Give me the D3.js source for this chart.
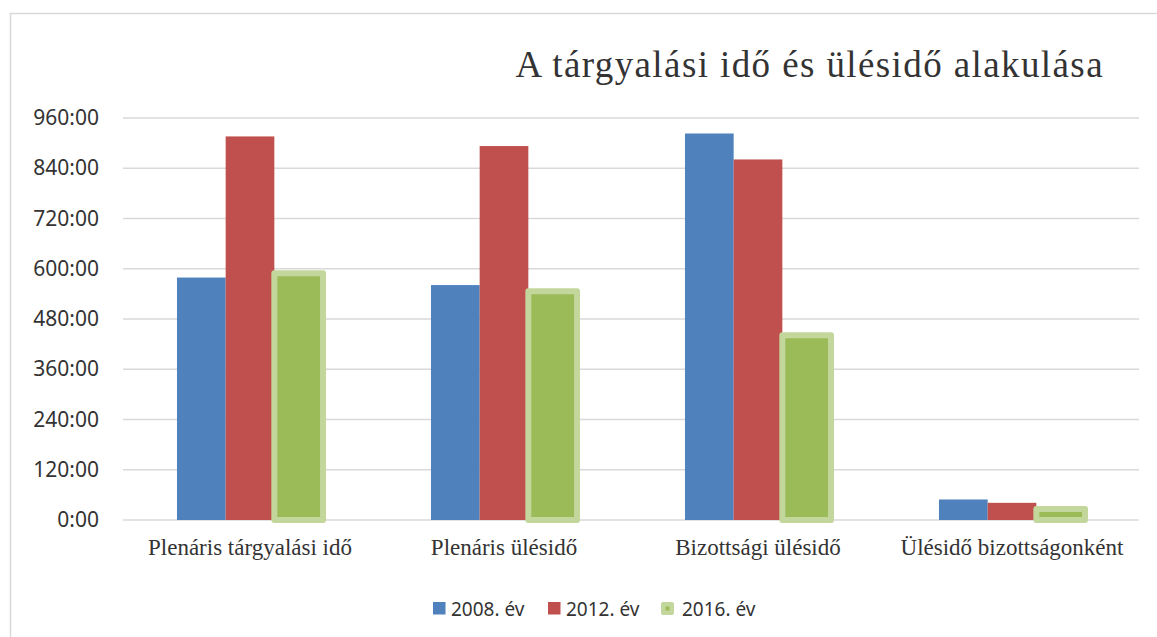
<!DOCTYPE html>
<html>
<head>
<meta charset="utf-8">
<script src="https://cdn.jsdelivr.net/npm/d3@7"></script>
<style>
  body { margin: 0; background: #fff; }
  svg { display: block; }
</style>
</head>
<body>
<svg id="chart"></svg>
<script>
const categories = ['Plenáris tárgyalási idő', 'Plenáris ülésidő', 'Bizottsági ülésidő', 'Ülésidő bizottságonként'];
const seriesNames = ['2008. év', '2012. év', '2016. év'];
const values2008 = [579, 561, 923, 49];
const values2012 = [916, 893, 861, 41];
const values2016 = [589, 546, 441, 26];
const yTicks = [0, 120, 240, 360, 480, 600, 720, 840, 960];

const colors = ['#4f81bd', '#c0504d', '#9bbb59'];
const greenStroke = '#c3d69b';

const width = 1157, height = 637;
const margin = { top: 118, right: 18, bottom: 117, left: 123 };
const w = width - margin.left - margin.right;
const h = height - margin.top - margin.bottom;

const svg = d3.select('#chart')
  .attr('width', width)
  .attr('height', height);

// chart frame (runs off the right and bottom edge)
svg.append('rect')
  .attr('x', 10.5).attr('y', 13.5)
  .attr('width', 1200).attr('height', 700)
  .attr('fill', 'none')
  .attr('stroke', '#d9d9d9')
  .attr('stroke-width', 1.5);

svg.append('text')
  .attr('x', 1104)
  .attr('y', 77)
  .attr('text-anchor', 'end')
  .attr('font-family', 'Liberation Serif, serif')
  .attr('font-size', 37)
  .attr('letter-spacing', 1.4)
  .attr('fill', '#333')
  .text('A tárgyalási idő és ülésidő alakulása');

const plot = svg.append('g')
  .attr('transform', `translate(${margin.left},${margin.top})`);

const x0 = d3.scaleBand()
  .domain(categories)
  .range([0, w])
  .paddingInner(0.425)
  .paddingOuter(0.2125);

const x1 = d3.scaleBand()
  .domain(seriesNames)
  .range([0, x0.bandwidth()]);

const y = d3.scaleLinear()
  .domain([0, 960])
  .range([h, 0]);

// gridlines
plot.append('g')
  .selectAll('line')
  .data(yTicks)
  .enter()
  .append('line')
  .attr('x1', 0).attr('x2', w)
  .attr('y1', d => y(d)).attr('y2', d => y(d))
  .attr('stroke', '#d9d9d9')
  .attr('stroke-width', 1.5);

// y axis labels
const yAxis = d3.axisLeft(y)
  .tickValues(yTicks)
  .tickSize(0)
  .tickPadding(24)
  .tickFormat(d => `${d}:00`);

plot.append('g')
  .call(yAxis)
  .call(g => g.select('.domain').remove())
  .selectAll('text')
  .attr('font-family', 'Noto Sans, sans-serif')
  .attr('font-size', 21)
  .attr('fill', '#333');

const rows = categories.map((c, i) => ({
  category: c,
  vals: [values2008[i], values2012[i], values2016[i]]
}));

const groups = plot.selectAll('.grp')
  .data(rows)
  .enter()
  .append('g')
  .attr('transform', d => `translate(${x0(d.category)},0)`);

groups.selectAll('rect')
  .data(d => d.vals.map((v, k) => ({ name: seriesNames[k], v, k })))
  .enter()
  .append('rect')
  .attr('x', d => x1(d.name))
  .attr('y', d => y(d.v))
  .attr('width', x1.bandwidth())
  .attr('height', d => h - y(d.v))
  .attr('fill', d => colors[d.k])
  .attr('stroke', d => d.k === 2 ? greenStroke : 'none')
  .attr('stroke-width', d => d.k === 2 ? 6 : 0)
  .attr('stroke-linejoin', 'round');

// x axis labels
plot.append('g')
  .selectAll('text')
  .data(categories)
  .enter()
  .append('text')
  .attr('x', d => x0(d) + x0.bandwidth() / 2)
  .attr('y', h + 35)
  .attr('text-anchor', 'middle')
  .attr('font-family', 'Liberation Serif, serif')
  .attr('font-size', 23)
  .attr('fill', '#333')
  .text(d => d);

// legend
const legendX = [433, 548, 661];
const legend = svg.append('g');
seriesNames.forEach((name, k) => {
  const g = legend.append('g').attr('transform', `translate(${legendX[k]},602)`);
  if (k === 2) {
    g.append('rect')
      .attr('x', 0).attr('y', 0).attr('width', 13).attr('height', 13)
      .attr('rx', 2)
      .attr('fill', greenStroke);
    g.append('rect')
      .attr('x', 4.5).attr('y', 4.5).attr('width', 4).attr('height', 4)
      .attr('fill', colors[2]);
  } else {
    g.append('rect')
      .attr('x', 0).attr('y', 0).attr('width', 12.5).attr('height', 12.5)
      .attr('fill', colors[k]);
  }
  g.append('text')
    .attr('x', k === 2 ? 21 : 18)
    .attr('y', 14)
    .attr('font-family', 'Noto Sans, sans-serif')
    .attr('font-size', 19)
    .attr('fill', '#333')
    .text(name);
});
</script>
</body>
</html>
